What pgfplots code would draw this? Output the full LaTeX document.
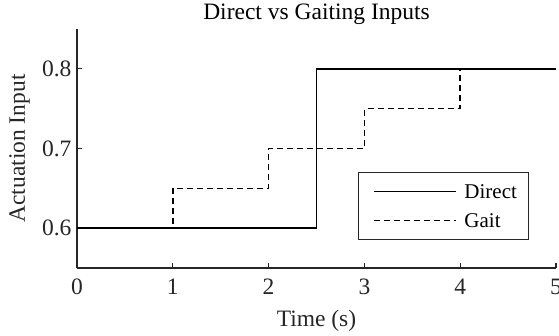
\documentclass[border=0pt]{standalone}
\usepackage{fontspec}
\setmainfont{Liberation Serif}
\usepackage{pgfplots}
\pgfplotsset{compat=1.18}
\definecolor{axgray}{rgb}{0.15,0.15,0.15}
\begin{document}
\begin{tikzpicture}[font=\fontsize{23.5}{28}\selectfont]
\path[use as bounding box] (-77pt,-68pt) rectangle (482pt,268pt);
\begin{axis}[
  at={(0,0)}, anchor=south west,
  scale only axis, width=479pt, height=239pt,
  xmin=0, xmax=5, ymin=0.55, ymax=0.85,
  xtick={0,1,2,3,4,5}, ytick={0.6,0.7,0.8},
  axis x line*=bottom, axis y line*=left,
  axis line style={-, line width=1.1pt, draw=axgray},
  tick style={line width=1.1pt, draw=axgray},
  tick align=inside, major tick length=5pt,
  /pgf/number format/assume math mode=true,
  yticklabel style={/pgf/number format/fixed, /pgf/number format/precision=1, /pgf/number format/fixed zerofill, anchor=east, xshift=-2pt, text=axgray},
  xticklabel style={anchor=base, yshift=-27pt, text=axgray},
  title={Direct vs Gaiting Inputs},
  title style={at={(axis description cs:0.5,1.0167)}, anchor=base},
  xlabel={Time (s)},
  xlabel style={at={(axis description cs:0.5,-0.2427)}, anchor=base, text=axgray},
  ylabel={Actuation Input},
  ylabel style={at={(axis description cs:-0.1086,0.5)}, anchor=base, rotate=0, text=axgray},
  legend style={at={(axis description cs:0.9436,0.117)}, anchor=south east,
    draw=axgray, line width=1pt, font=\fontsize{21}{25}\selectfont,
    inner xsep=0pt, inner ysep=10pt, row sep=11pt,
    nodes={inner xsep=0pt, inner ysep=0pt, text height=16pt, text depth=2pt, text width=64pt}},
  legend cell align=left,
  legend image code/.code={\path[draw=none,fill=none] (-16pt,-1pt) rectangle (90pt,1pt); \draw[#1,line width=1.6pt] (0pt,0pt) -- (82pt,0pt);},
]
\addplot[const plot, black, line width=1.6pt] coordinates {(0,0.6) (2.5,0.6) (2.5,0.8) (5,0.8)};
\addlegendentry{Direct}
\addplot[const plot, black, line width=1.6pt, dash pattern=on 6pt off 4pt] coordinates {(0,0.6) (1,0.65) (2,0.7) (3,0.75) (4,0.8) (5,0.8)};
\addlegendentry{Gait}
\end{axis}
\end{tikzpicture}
\end{document}
